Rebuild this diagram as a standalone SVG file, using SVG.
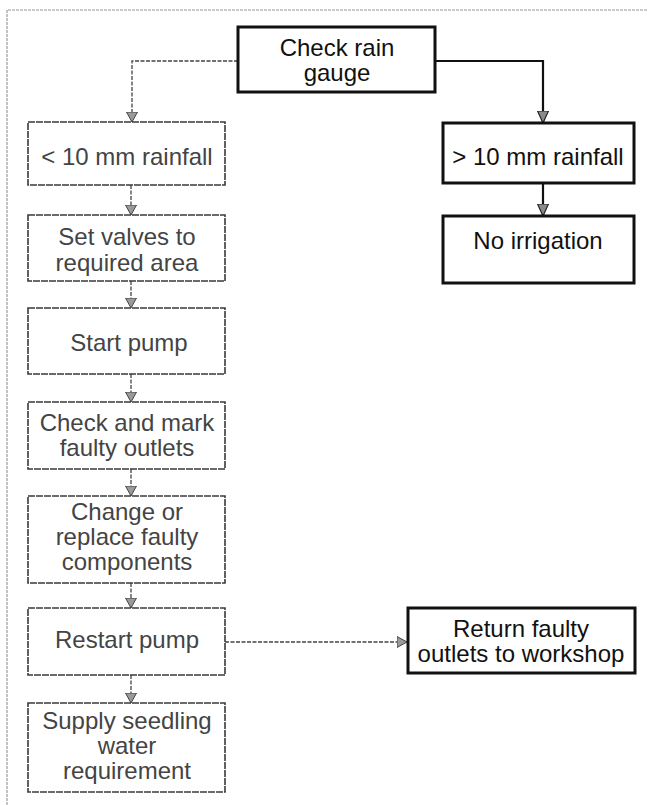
<svg xmlns="http://www.w3.org/2000/svg" width="648" height="805" viewBox="0 0 648 805">
  <defs>
    <style>
      .bold rect { fill: #fff; stroke: #111; stroke-width: 3; }
      .light rect { fill: #fff; stroke: #3a3a3a; stroke-width: 1.6; stroke-dasharray: 7 1; }
      .bold text { font-family: "Liberation Sans", Arial, sans-serif; font-size: 24px; fill: #111; text-anchor: middle; }
      .light text { font-family: "Liberation Sans", Arial, sans-serif; font-size: 24px; fill: #444; text-anchor: middle; }
      .frame { fill: none; stroke: #9a9a9a; stroke-width: 1.2; stroke-dasharray: 3 1; }
      .c-light { fill: none; stroke: #444; stroke-width: 1.3; stroke-dasharray: 4 1.5; marker-end: url(#ahLight); }
      .c-bold { fill: none; stroke: #111; stroke-width: 2.2; marker-end: url(#ahBold); }
    </style>
    <marker id="ahLight" viewBox="0 0 10 12" refX="10" refY="6" markerWidth="10" markerHeight="12" markerUnits="userSpaceOnUse" orient="auto">
      <polygon points="0,0.5 10,6 0,11.5" fill="#9a9a9a" stroke="#444" stroke-width="1"/>
    </marker>
    <marker id="ahBold" viewBox="0 0 12 12" refX="12" refY="6" markerWidth="12" markerHeight="12" markerUnits="userSpaceOnUse" orient="auto">
      <polygon points="0,0.5 12,6 0,11.5" fill="#8a8a8a" stroke="#222" stroke-width="1.2"/>
    </marker>
  </defs>

  <path class="frame" d="M7,805 V10 H648"/>

  <g id="connectors">
    <path class="c-light" d="M238,61 H132 V122"/>
    <path class="c-bold" d="M435,61 H543 V123"/>
    <path class="c-bold" d="M543,183 V216"/>
    <path class="c-light" d="M131,185 V215"/>
    <path class="c-light" d="M131,281 V308"/>
    <path class="c-light" d="M131,374 V402"/>
    <path class="c-light" d="M131,469 V496"/>
    <path class="c-light" d="M131,583 V608"/>
    <path class="c-light" d="M131,675 V703"/>
    <path class="c-light" d="M225,642 H407"/>
  </g>

  <g id="check-rain-gauge" class="bold">
    <rect x="238" y="27" width="197" height="65"/>
    <text x="337" y="56">Check rain</text>
    <text x="337" y="81">gauge</text>
  </g>

  <g id="less-10mm" class="light">
    <rect x="28" y="122" width="197" height="63"/>
    <text x="127" y="165">&lt; 10 mm rainfall</text>
  </g>

  <g id="more-10mm" class="bold">
    <rect x="443" y="123" width="191" height="60"/>
    <text x="538" y="165">&gt; 10 mm rainfall</text>
  </g>

  <g id="set-valves" class="light">
    <rect x="28" y="215" width="197" height="66"/>
    <text x="127" y="245">Set valves to</text>
    <text x="127" y="271">required area</text>
  </g>

  <g id="no-irrigation" class="bold">
    <rect x="443" y="216" width="191" height="67"/>
    <text x="538" y="249">No irrigation</text>
  </g>

  <g id="start-pump" class="light">
    <rect x="28" y="308" width="197" height="66"/>
    <text x="129" y="351">Start pump</text>
  </g>

  <g id="check-mark" class="light">
    <rect x="28" y="402" width="197" height="67"/>
    <text x="127" y="431">Check and mark</text>
    <text x="127" y="456">faulty outlets</text>
  </g>

  <g id="change-replace" class="light">
    <rect x="28" y="496" width="197" height="87"/>
    <text x="127" y="520">Change or</text>
    <text x="127" y="545">replace faulty</text>
    <text x="127" y="570">components</text>
  </g>

  <g id="restart-pump" class="light">
    <rect x="28" y="608" width="197" height="67"/>
    <text x="127" y="648">Restart pump</text>
  </g>

  <g id="return-outlets" class="bold">
    <rect x="408" y="608" width="227" height="65"/>
    <text x="521" y="637">Return faulty</text>
    <text x="521" y="662">outlets to workshop</text>
  </g>

  <g id="supply-water" class="light">
    <rect x="28" y="703" width="197" height="89"/>
    <text x="127" y="729">Supply seedling</text>
    <text x="127" y="754">water</text>
    <text x="127" y="779">requirement</text>
  </g>
</svg>
